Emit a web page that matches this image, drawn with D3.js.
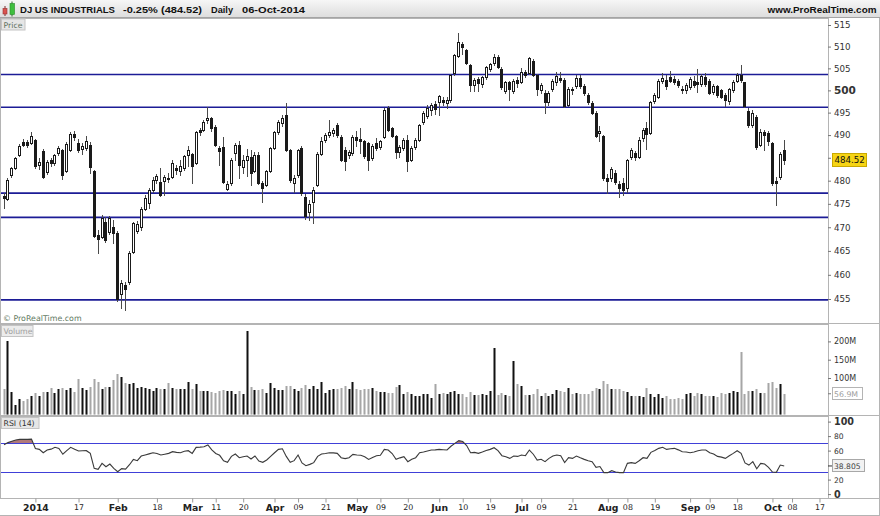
<!DOCTYPE html>
<html>
<head>
<meta charset="utf-8">
<script src="https://cdn.jsdelivr.net/npm/d3@7/dist/d3.min.js"></script>
<style>
html,body{margin:0;padding:0;background:#fff;}
svg{display:block;}
</style>
</head>
<body>
<script>
// ---------- DATA ----------
const dates = [
"2013-12-19","2013-12-20","2013-12-23","2013-12-24","2013-12-26","2013-12-27","2013-12-30","2013-12-31",
"2014-01-02","2014-01-03","2014-01-06","2014-01-07","2014-01-08","2014-01-09","2014-01-10","2014-01-13","2014-01-14","2014-01-15","2014-01-16","2014-01-17","2014-01-21","2014-01-22","2014-01-23","2014-01-24","2014-01-27","2014-01-28","2014-01-29","2014-01-30","2014-01-31",
"2014-02-03","2014-02-04","2014-02-05","2014-02-06","2014-02-07","2014-02-10","2014-02-11","2014-02-12","2014-02-13","2014-02-14","2014-02-18","2014-02-19","2014-02-20","2014-02-21","2014-02-24","2014-02-25","2014-02-26","2014-02-27","2014-02-28",
"2014-03-03","2014-03-04","2014-03-05","2014-03-06","2014-03-07","2014-03-10","2014-03-11","2014-03-12","2014-03-13","2014-03-14","2014-03-17","2014-03-18","2014-03-19","2014-03-20","2014-03-21","2014-03-24","2014-03-25","2014-03-26","2014-03-27","2014-03-28","2014-03-31",
"2014-04-01","2014-04-02","2014-04-03","2014-04-04","2014-04-07","2014-04-08","2014-04-09","2014-04-10","2014-04-11","2014-04-14","2014-04-15","2014-04-16","2014-04-17","2014-04-21","2014-04-22","2014-04-23","2014-04-24","2014-04-25","2014-04-28","2014-04-29","2014-04-30",
"2014-05-01","2014-05-02","2014-05-05","2014-05-06","2014-05-07","2014-05-08","2014-05-09","2014-05-12","2014-05-13","2014-05-14","2014-05-15","2014-05-16","2014-05-19","2014-05-20","2014-05-21","2014-05-22","2014-05-23","2014-05-27","2014-05-28","2014-05-29","2014-05-30",
"2014-06-02","2014-06-03","2014-06-04","2014-06-05","2014-06-06","2014-06-09","2014-06-10","2014-06-11","2014-06-12","2014-06-13","2014-06-16","2014-06-17","2014-06-18","2014-06-19","2014-06-20","2014-06-23","2014-06-24","2014-06-25","2014-06-26","2014-06-27","2014-06-30",
"2014-07-01","2014-07-02","2014-07-03","2014-07-07","2014-07-08","2014-07-09","2014-07-10","2014-07-11","2014-07-14","2014-07-15","2014-07-16","2014-07-17","2014-07-18","2014-07-21","2014-07-22","2014-07-23","2014-07-24","2014-07-25","2014-07-28","2014-07-29","2014-07-30","2014-07-31",
"2014-08-01","2014-08-04","2014-08-05","2014-08-06","2014-08-07","2014-08-08","2014-08-11","2014-08-12","2014-08-13","2014-08-14","2014-08-15","2014-08-18","2014-08-19","2014-08-20","2014-08-21","2014-08-22","2014-08-25","2014-08-26","2014-08-27","2014-08-28","2014-08-29",
"2014-09-02","2014-09-03","2014-09-04","2014-09-05","2014-09-08","2014-09-09","2014-09-10","2014-09-11","2014-09-12","2014-09-15","2014-09-16","2014-09-17","2014-09-18","2014-09-19","2014-09-22","2014-09-23","2014-09-24","2014-09-25","2014-09-26","2014-09-29","2014-09-30",
"2014-10-01","2014-10-02","2014-10-03","2014-10-06"];
const futureDates = ["2014-10-07","2014-10-08","2014-10-09","2014-10-10","2014-10-13","2014-10-14","2014-10-15","2014-10-16","2014-10-17"];

const open = [
476.6,476.1,481.2,482.7,485.6,488.5,488.5,488.2,
488.9,483.4,486.5,481.8,484.4,483.8,486.0,486.7,482.2,486.8,490.3,488.2,486.9,487.1,487.8,482.1,468.3,468.0,471.2,469.0,470.1,
468.7,456.0,457.8,458.6,464.8,469.3,470.0,474.0,475.2,478.0,480.2,479.8,480.0,480.6,480.9,482.7,482.0,482.7,485.6,
485.8,483.9,491.1,491.1,493.4,493.7,491.9,487.1,487.4,478.3,479.4,486.0,487.8,483.0,484.4,485.2,482.0,485.6,479.4,479.1,482.0,
487.1,490.6,492.6,494.5,486.7,479.5,481.2,487.1,476.5,473.3,475.5,479.1,485.9,488.9,490.0,490.5,492.2,489.6,486.7,485.6,486.0,
489.6,489.1,488.6,488.2,485.0,488.2,487.4,489.6,496.0,491.5,489.8,486.3,487.1,489.0,484.5,487.4,488.9,492.8,494.3,495.6,497.0,
497.4,497.9,497.1,497.8,503.9,507.9,510.6,509.1,505.8,501.2,502.5,501.5,503.0,504.9,506.2,507.7,504.9,499.8,501.8,499.9,502.3,
502.0,504.1,504.0,506.8,503.5,500.1,499.5,497.3,500.2,501.8,502.9,502.4,496.8,500.3,500.9,502.8,501.0,499.0,497.2,495.0,490.4,489.8,
480.6,480.5,481.6,479.2,479.4,478.4,485.2,486.1,485.2,489.3,491.5,490.5,497.5,498.6,502.1,502.4,503.0,502.6,502.2,500.4,500.0,
500.8,502.2,501.8,501.4,503.0,502.2,499.6,500.9,500.0,499.0,497.6,500.1,502.2,503.4,501.8,495.4,492.3,494.0,487.8,490.7,490.4,
488.2,479.9,480.7,486.6];
const high = [
477.3,480.6,483.0,485.2,488.0,489.1,489.0,490.6,
489.2,484.9,486.9,484.4,485.0,485.9,487.6,487.0,488.4,490.6,490.8,489.2,488.2,489.8,488.4,482.4,469.5,472.6,472.2,472.3,471.5,
469.3,459.0,458.5,465.0,471.2,471.3,474.3,476.8,478.4,480.7,481.5,482.8,481.3,481.6,484.6,483.4,484.5,485.6,487.6,
486.0,491.0,491.6,493.4,496.3,494.0,492.2,487.6,489.6,479.9,484.9,488.2,488.6,485.6,487.0,486.7,486.3,486.3,479.9,482.4,487.4,
490.9,493.4,494.5,497.2,487.0,481.2,487.0,487.5,477.2,475.9,478.7,486.2,489.6,490.4,493.3,491.6,492.6,490.0,487.3,486.8,490.0,
491.0,491.6,489.0,488.5,488.0,489.3,489.0,496.0,496.4,491.9,490.1,487.8,489.3,490.0,487.5,489.3,492.5,495.3,496.8,497.2,497.5,
499.0,498.5,498.4,503.8,508.4,513.1,511.0,509.5,506.0,502.8,503.1,503.3,505.6,506.3,508.2,508.0,505.2,502.2,502.2,502.6,503.0,
505.0,504.6,507.7,507.2,503.8,501.7,500.0,499.8,502.5,504.2,504.2,502.8,500.7,500.8,503.6,503.4,501.5,499.3,497.6,495.4,492.0,490.1,
481.5,483.0,482.4,480.0,480.5,484.8,487.1,486.5,489.6,491.6,492.8,497.7,499.3,502.5,503.9,503.5,504.3,503.2,502.6,500.9,501.6,
503.0,503.3,504.9,503.7,503.9,502.6,501.4,501.2,500.4,499.3,500.6,502.4,504.0,505.8,502.0,496.0,495.5,494.5,491.3,491.2,491.0,
488.5,480.8,486.2,488.9];
const low = [
474.1,475.9,480.9,482.5,485.4,487.5,487.4,488.0,
482.8,482.6,480.6,481.5,483.2,483.5,485.6,480.3,481.9,486.5,489.0,486.3,485.9,486.8,481.6,467.9,464.5,467.8,466.8,468.6,466.6,
454.5,453.2,452.8,458.0,464.5,468.8,469.5,473.6,474.2,477.5,479.6,476.6,476.8,479.8,480.6,481.5,481.3,482.3,483.2,
479.4,483.6,490.0,490.8,492.7,491.0,487.5,483.4,479.5,477.9,479.0,484.4,480.5,481.6,481.0,479.1,481.8,479.2,475.5,478.8,481.8,
486.9,490.3,492.0,486.5,479.8,477.6,480.8,477.0,471.8,471.5,470.8,478.8,485.5,488.4,489.6,489.9,489.6,484.2,482.3,485.0,485.7,
487.5,486.0,484.9,482.3,484.6,486.6,486.9,489.3,490.9,489.5,485.0,485.2,486.6,482.0,484.2,487.0,488.6,492.4,493.8,494.5,494.6,
494.5,496.6,496.1,497.4,503.6,507.5,508.4,505.9,499.8,499.8,499.9,500.8,502.6,504.4,505.8,505.1,500.3,499.4,497.8,499.5,500.8,
501.7,503.0,503.7,503.2,499.0,499.5,495.0,496.8,499.8,501.2,501.8,496.2,496.4,499.2,500.6,500.5,499.0,496.9,494.6,489.5,488.7,480.2,
477.3,479.9,479.2,476.5,477.0,477.6,484.8,484.6,484.9,488.6,487.0,490.2,497.1,498.3,501.6,500.2,501.8,501.4,500.8,499.3,499.5,
500.3,500.8,499.6,500.9,501.0,499.2,499.2,498.6,498.3,496.5,497.0,499.6,501.8,502.0,496.2,491.8,491.8,487.0,487.5,486.7,487.9,
479.0,474.8,480.4,483.6];
const close = [
476.2,480.2,482.7,485.0,487.6,487.9,487.8,489.9,
483.1,484.0,480.9,484.1,483.8,485.6,487.1,481.3,488.1,490.3,489.6,486.7,487.6,488.6,483.0,468.1,467.5,471.9,467.3,471.9,468.7,
454.9,458.2,457.0,464.5,470.8,470.7,474.0,476.2,478.0,480.2,481.0,477.0,480.8,480.3,483.8,482.3,483.2,485.4,486.7,
483.1,490.6,490.6,493.0,493.8,491.6,487.8,486.4,479.8,479.3,484.5,487.8,483.5,484.5,485.3,481.7,485.5,479.4,478.4,482.0,487.1,
490.6,493.0,493.8,486.7,480.2,480.6,486.7,477.3,472.3,475.0,478.0,485.9,488.6,490.0,490.7,491.2,490.0,484.5,484.2,486.3,489.6,
488.9,488.6,485.4,484.5,487.6,487.1,488.6,495.6,491.2,489.8,486.3,487.4,488.9,484.2,487.1,488.9,492.2,495.0,496.1,496.8,495.9,
498.7,497.3,497.9,503.5,508.1,511.0,510.0,506.2,501.3,502.4,501.7,503.0,505.3,505.9,507.7,505.4,500.7,501.8,500.2,502.2,501.6,
504.2,503.6,507.3,503.5,500.2,501.3,497.3,499.4,502.1,503.3,502.4,496.5,500.4,500.0,502.8,500.9,499.4,497.3,495.0,489.8,490.8,480.5,
479.9,482.5,479.8,478.4,478.0,484.4,486.7,485.1,488.9,491.1,490.3,497.3,499.0,502.1,502.9,501.0,502.2,501.8,501.2,500.0,501.2,
502.5,501.3,501.4,503.3,501.5,499.5,501.0,499.0,498.6,497.9,500.3,501.8,503.5,502.3,496.5,492.2,495.0,487.4,490.7,490.0,488.6,
479.5,479.4,485.73,484.52];
// volume in millions
const volume = [
69,202,63,26,43,37,42,52,
59,50,62,63,72,60,69,74,67,72,63,96,72,67,76,96,90,69,76,76,95,
111,104,87,84,86,72,75,72,70,65,73,71,70,86,72,69,69,69,90,
70,83,65,65,65,63,60,65,66,64,65,55,64,57,228,75,66,67,71,59,86,
72,67,68,77,79,69,65,72,80,69,77,69,90,59,68,71,69,72,78,69,90,
71,68,69,69,72,65,61,63,60,59,76,81,56,61,56,52,52,56,56,45,83,
55,60,56,61,65,56,56,49,61,54,54,56,54,65,181,54,58,54,51,147,84,
78,54,54,56,69,51,58,51,56,67,65,63,74,56,58,56,56,56,65,72,69,92,
84,69,69,69,65,63,52,52,52,47,72,56,49,56,46,51,43,43,45,43,56,
58,52,58,56,51,52,52,49,58,56,60,65,63,172,56,65,65,69,60,60,86,
90,72,83,56.9];
const rsi = [
68,71,73,74.6,75.5,75.5,75.5,75.8,
63,61.7,57.1,60.8,62,64.5,63,55,60,64.5,62,59.4,59.8,59.9,56.2,35.5,34.2,42.4,37.8,41.5,35.5,
30.9,35.1,34.5,40.5,47.9,46.1,52.5,54,55.5,57.1,56,53.9,55,56.2,58.5,57.5,57.1,59,59.9,
56.2,64.5,64.8,65.4,67.7,61,56,53.5,46,43.8,52,55.3,50.2,51.5,52.5,48.4,52.5,45.5,43.8,47,52,
57,61.7,62.5,52,43.8,46.1,53.9,43,39.2,41,43.4,52,55.3,56,57.1,56.8,56.2,50.2,49,50.2,54.8,
54,53.5,51.6,47.9,50.5,53,53.5,61.7,60.8,56,48,50,51.6,44.7,48,50.2,57.1,58.1,59.5,60.8,61,
61.7,61.2,60.8,66,70,73.7,72.5,67,57.1,57.5,56.2,58,60,61.7,64,60,53,51.6,49.3,52.5,52,
53.9,53,60.8,55,47,48,44.7,49.3,52.5,53.9,53,43.4,50.2,49.3,52.5,50,47.9,46,44.7,36.9,38,29.6,
29.6,32.3,30.5,29.6,29.6,42.4,43.4,42.4,46,50.2,49.3,57.6,60,63.1,64.5,61.7,62.5,63.1,61,58.5,58,
57.1,58,59.9,60.8,60.8,57.1,55.3,52,51,49.3,53,56.2,59.9,56.2,43,40,44.7,35,42.4,41.5,37,
30.5,30,40.1,38.805];

const levels = [503.6, 496.2, 477.3, 472.1, 454.8];
const priceTicks = [515, 510, 505, 500, 495, 490, 480, 475, 470, 465, 460, 455];
const volumeTicks = [200, 150, 100];
const rsiTicks = [100, 80, 60, 20, 0];
const rsiBands = [70, 30];
const xTickDates = ["2014-01-02","2014-01-17","2014-02-03","2014-02-18","2014-03-03","2014-03-11","2014-03-20","2014-04-01","2014-04-09","2014-04-21","2014-05-01","2014-05-09","2014-05-20","2014-06-02","2014-06-10","2014-06-19","2014-07-01","2014-07-09","2014-07-21","2014-08-01","2014-08-08","2014-08-19","2014-09-02","2014-09-09","2014-09-18","2014-10-01","2014-10-08","2014-10-17"];
const xTickLabels = ["2014","17","Feb","18","Mar","11","20","Apr","09","21","May","09","20","Jun","10","19","Jul","09","21","Aug","08","19","Sep","09","18","Oct","08","17"];

const title = "DJ US INDUSTRIALS";
const changeText = "-0.25% (484.52)";
const periodText = "Daily";
const dateText = "06-Oct-2014";
const siteText = "www.ProRealTime.com";

// ---------- LAYOUT ----------
const W = 880, H = 516, plotR = 828;
const panels = {
  price: {top: 18, bottom: 323},
  volume: {top: 324, bottom: 415},
  rsi: {top: 416, bottom: 498}
};
const NUM = "'DejaVu Sans', Verdana, sans-serif";
const HDR = "'Liberation Sans', Arial, sans-serif";

const svg = d3.select("body").append("svg").attr("width", W).attr("height", H);
const defs = svg.append("defs");
const grad = defs.append("linearGradient").attr("id", "hdr").attr("x1", 0).attr("y1", 0).attr("x2", 0).attr("y2", 1);
grad.append("stop").attr("offset", "0%").attr("stop-color", "#f6f6f6");
grad.append("stop").attr("offset", "100%").attr("stop-color", "#dcdcdc");
Object.entries(panels).forEach(([k, p]) => {
  defs.append("clipPath").attr("id", "clip-" + k).append("rect")
    .attr("x", 1).attr("y", p.top + 1).attr("width", plotR - 1).attr("height", p.bottom - p.top - 1);
});

// ---------- SCALES ----------
const allDates = dates.concat(futureDates);
const x = d3.scaleLinear().domain([-0.9, 210.3]).range([0, plotR]);
const yP = d3.scaleLog().domain([455, 515]).range([299, 25]);
const yV = d3.scaleLinear().domain([0, 200]).range([414.6, 341.4]);
const yR = d3.scaleLinear().domain([0, 100]).range([494.1, 421.6]);
const cxOf = k => Math.round(x(k));

defs.append("clipPath").attr("id", "clip-ob").append("rect")
  .attr("x", 1).attr("y", panels.rsi.top + 1).attr("width", plotR - 1).attr("height", yR(rsiBands[0]) - panels.rsi.top - 1);

svg.append("rect").attr("width", W).attr("height", H).attr("fill", "#fff");

// header
svg.append("rect").attr("x", 0).attr("y", 0).attr("width", W).attr("height", 18).attr("fill", "url(#hdr)");
svg.append("line").attr("x1", 0).attr("x2", W).attr("y1", 17.5).attr("y2", 17.5).attr("stroke", "#a4a4a4");
const ic = svg.append("g");
ic.append("line").attr("x1", 5).attr("x2", 5).attr("y1", 6).attr("y2", 16).attr("stroke", "#7a2a2a");
ic.append("rect").attr("x", 3).attr("y", 8.5).attr("width", 4).attr("height", 5.5).attr("fill", "#d9534f").attr("stroke", "#9a3030").attr("stroke-width", 0.6);
ic.append("line").attr("x1", 12).attr("x2", 12).attr("y1", 1.5).attr("y2", 16.5).attr("stroke", "#2a6a2a");
ic.append("rect").attr("x", 10).attr("y", 3.5).attr("width", 4.5).attr("height", 11).attr("fill", "#3fbf3f").attr("stroke", "#2a8a2a").attr("stroke-width", 0.6);

const hdrText = (t, xx, anchor, len) => svg.append("text").attr("x", xx).attr("y", 12.7)
  .attr("font-family", HDR).attr("font-weight", "bold").attr("font-size", 9.8).attr("fill", "#111")
  .attr("text-anchor", anchor || "start").attr("textLength", len).attr("lengthAdjust", "spacingAndGlyphs").text(t);
hdrText(title, 20, "start", 95);
hdrText(changeText, 123, "start", 79);
hdrText(periodText, 211, "start", 22);
hdrText(dateText, 242, "start", 63);
hdrText(siteText, 876.5, "end", 109);

// panel frames
Object.values(panels).forEach(p => {
  svg.append("rect").attr("x", 0.5).attr("y", p.top + 0.5).attr("width", plotR).attr("height", p.bottom - p.top)
    .attr("fill", "none").attr("stroke", "#b4b4b4");
  svg.append("line").attr("x1", plotR).attr("x2", W).attr("y1", p.bottom + 0.5).attr("y2", p.bottom + 0.5).attr("stroke", "#b4b4b4");
});
svg.append("line").attr("x1", W - 0.5).attr("x2", W - 0.5).attr("y1", 18).attr("y2", H).attr("stroke", "#b4b4b4");
svg.append("line").attr("x1", 0).attr("x2", W).attr("y1", H - 0.5).attr("y2", H - 0.5).attr("stroke", "#b4b4b4");

// ---------- PRICE PANEL ----------
const gP = svg.append("g").attr("clip-path", "url(#clip-price)");
gP.selectAll("line.lvl").data(levels).join("line").attr("class", "lvl")
  .attr("x1", 0).attr("x2", plotR).attr("y1", d => yP(d)).attr("y2", d => yP(d))
  .attr("stroke", "#1c1c96").attr("stroke-width", 1.7);

const candles = gP.selectAll("g.c").data(dates).join("g").attr("class", "c");
candles.append("line")
  .attr("x1", (d, k) => cxOf(k) + 0.5).attr("x2", (d, k) => cxOf(k) + 0.5)
  .attr("y1", (d, k) => Math.round(yP(high[k]))).attr("y2", (d, k) => Math.round(yP(low[k])) + 1)
  .attr("stroke", "#4a4a4a").attr("stroke-width", 1);
candles.append("rect")
  .attr("x", (d, k) => cxOf(k) - 0.5)
  .attr("y", (d, k) => Math.round(yP(Math.max(open[k], close[k]))) + 0.5)
  .attr("width", 2)
  .attr("height", (d, k) => Math.max(0, Math.round(yP(Math.min(open[k], close[k]))) - Math.round(yP(Math.max(open[k], close[k])))))
  .attr("fill", (d, k) => close[k] >= open[k] ? "#fff" : "#1a1a1a")
  .attr("stroke", "#1a1a1a").attr("stroke-width", 1);

const label = (t, y0, w, color, fill) => {
  svg.append("rect").attr("x", 1.5).attr("y", y0 + 0.5).attr("width", w).attr("height", 11)
    .attr("fill", fill).attr("stroke", "#c4c4c4");
  svg.append("text").attr("x", 3.5).attr("y", y0 + 9.3).attr("font-family", NUM).attr("font-size", 7.8)
    .attr("fill", color).text(t);
};
label("Price", 18.5, 23.5, "#5d705d", "#e6e6e6");
svg.append("text").attr("x", 3).attr("y", 321).attr("font-family", NUM).attr("font-size", 7.9)
  .attr("fill", "#5f7a5f").text("\u00A9 ProRealTime.com");

const gyP = svg.append("g").attr("transform", `translate(${plotR},0)`)
  .call(d3.axisRight(yP).tickValues(priceTicks.concat([485])).tickSize(3).tickFormat(d3.format("d")));
gyP.select(".domain").remove();
gyP.selectAll(".tick line").attr("stroke", "#777");
gyP.selectAll(".tick text").attr("x", 6).attr("font-family", NUM).attr("fill", "#333")
  .attr("font-size", d => d === 500 ? 10.5 : 8.7).attr("font-weight", d => d === 500 ? "bold" : "normal")
  .text(d => d === 485 ? "" : d);
const lastClose = close[close.length - 1];
svg.append("rect").attr("x", 832.5).attr("y", Math.round(yP(lastClose)) - 6.5).attr("width", 34).attr("height", 13)
  .attr("fill", "#f6d414").attr("stroke", "#c9a800");
svg.append("text").attr("x", 834.5).attr("y", yP(lastClose)).attr("dy", "0.36em")
  .attr("font-family", NUM).attr("font-size", 8.7).attr("fill", "#111").text(d3.format(".2f")(lastClose));

// ---------- VOLUME PANEL ----------
const gV = svg.append("g").attr("clip-path", "url(#clip-volume)");
gV.selectAll("rect").data(volume).join("rect")
  .attr("x", (d, k) => cxOf(k) - 0.5).attr("width", 2)
  .attr("y", d => Math.round(yV(d))).attr("height", d => yV(0) - Math.round(yV(d)))
  .attr("fill", (d, k) => close[k] >= open[k] ? "#111" : "#a6a6a6");
label("Volume", 325, 31.5, "#a0a0a0", "#ececec");
const gyV = svg.append("g").attr("transform", `translate(${plotR},0)`)
  .call(d3.axisRight(yV).tickValues(volumeTicks).tickSize(3).tickFormat(d => d + "M"));
gyV.select(".domain").remove();
gyV.selectAll(".tick line").attr("stroke", "#777");
gyV.selectAll(".tick text").attr("x", 6).attr("font-family", NUM).attr("font-size", 8).attr("fill", "#333");
const lastVol = volume[volume.length - 1];
svg.append("line").attr("x1", plotR).attr("x2", plotR + 3).attr("y1", yV(lastVol)).attr("y2", yV(lastVol)).attr("stroke", "#777");
svg.append("rect").attr("x", 832.5).attr("y", Math.round(yV(lastVol)) - 6.5).attr("width", 30).attr("height", 12)
  .attr("fill", "#fff").attr("stroke", "#b4b4b4");
svg.append("text").attr("x", 834).attr("y", yV(lastVol)).attr("dy", "0.36em")
  .attr("font-family", NUM).attr("font-size", 7.8).attr("fill", "#a0a0a0").text(d3.format(".1f")(lastVol) + "M");

// ---------- RSI PANEL ----------
const gR = svg.append("g").attr("clip-path", "url(#clip-rsi)");
gR.append("g").attr("clip-path", "url(#clip-ob)").append("path").datum(rsi)
  .attr("d", d3.area().x((d, k) => x(k) + 0.5).y0(yR(rsiBands[0])).y1(d => yR(d)))
  .attr("fill", "#a96b6b").attr("opacity", 0.9);
gR.selectAll("line.band").data(rsiBands).join("line").attr("class", "band")
  .attr("x1", 0).attr("x2", plotR).attr("y1", d => Math.round(yR(d)) + 0.5).attr("y2", d => Math.round(yR(d)) + 0.5)
  .attr("stroke", "#4040d8").attr("stroke-width", 1);
gR.append("path").datum(rsi)
  .attr("d", d3.line().x((d, k) => x(k) + 0.5).y(d => yR(d)))
  .attr("fill", "none").attr("stroke", "#3a3a3a").attr("stroke-width", 1.1);
label("RSI (14)", 417, 37.5, "#333", "#e6e6e6");
const gyR = svg.append("g").attr("transform", `translate(${plotR},0)`)
  .call(d3.axisRight(yR).tickValues(rsiTicks).tickSize(3).tickFormat(d3.format("d")));
gyR.select(".domain").remove();
gyR.selectAll(".tick line").attr("stroke", "#777");
gyR.selectAll(".tick text").attr("x", 6).attr("font-family", NUM).attr("fill", "#333")
  .attr("font-size", d => (d === 100 || d === 0) ? 9.6 : 7.6).attr("font-weight", d => (d === 100 || d === 0) ? "bold" : "normal");
const lastRsi = rsi[rsi.length - 1];
svg.append("line").attr("x1", plotR).attr("x2", plotR + 4).attr("y1", yR(lastRsi)).attr("y2", yR(lastRsi)).attr("stroke", "#333");
svg.append("rect").attr("x", 832.5).attr("y", Math.round(yR(lastRsi)) - 6.5).attr("width", 32).attr("height", 12)
  .attr("fill", "#f2f2f2").attr("stroke", "#a8a8a8");
svg.append("text").attr("x", 834).attr("y", yR(lastRsi)).attr("dy", "0.36em")
  .attr("font-family", NUM).attr("font-size", 7.6).attr("fill", "#444").text(d3.format(".3f")(lastRsi));

// ---------- X AXIS ----------
const isMajor = l => !/^\d\d$/.test(l);
const gx = svg.append("g").attr("transform", `translate(0.5,${panels.rsi.bottom + 0.5})`)
  .call(d3.axisBottom(x).tickValues(xTickDates.map(d => allDates.indexOf(d)))
    .tickFormat((d, i) => xTickLabels[i]).tickSize(4).tickSizeOuter(0));
gx.select(".domain").remove();
gx.selectAll(".tick line").attr("stroke", "#999");
gx.selectAll(".tick text").attr("y", 6).attr("font-family", NUM).attr("fill", "#222")
  .attr("font-size", (d, i) => isMajor(xTickLabels[i]) ? 9.3 : 7.9)
  .attr("font-weight", (d, i) => isMajor(xTickLabels[i]) ? "bold" : "normal");
</script>
</body>
</html>
